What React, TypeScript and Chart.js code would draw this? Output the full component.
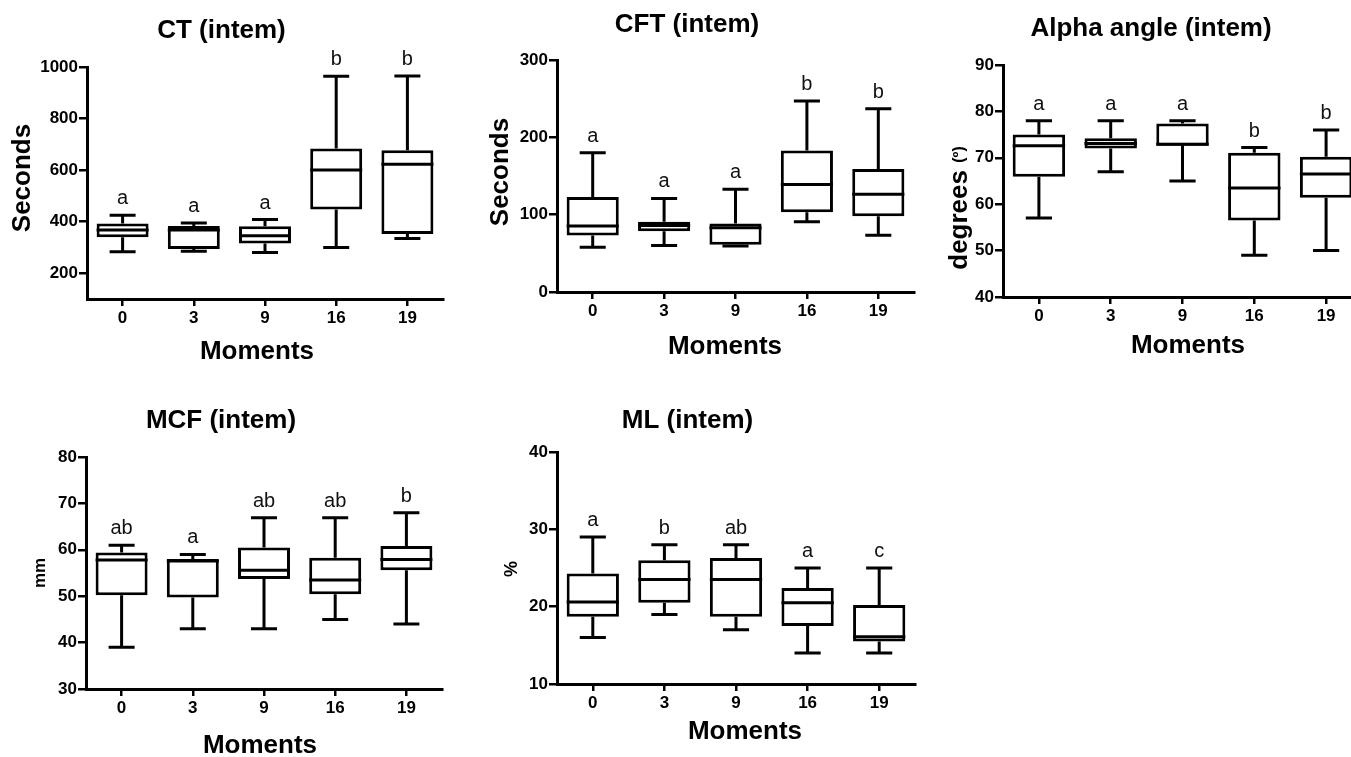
import React, { useEffect, useRef } from 'react';
import { Chart, registerables } from 'chart.js';

Chart.register(...registerables);

const FONT = "'Liberation Sans', Arial, Helvetica, sans-serif";

// ---------- data ----------
const moments = ['0', '3', '9', '16', '19'];

// CT (intem)
const ctMin = [283, 285, 280, 300, 335];
const ctQ1 = [340, 294, 315, 447, 352];
const ctMedian = [368, 368, 345, 600, 623];
const ctQ3 = [393, 383, 382, 684, 677];
const ctMax = [425, 395, 408, 964, 965];
const ctLetters = ['a', 'a', 'a', 'b', 'b'];
const ctTicks = [200, 400, 600, 800, 1000];

// CFT (intem)
const cftMin = [58, 60, 59.5, 90.7, 73.4];
const cftQ1 = [73, 78.5, 61, 103, 98];
const cftMedian = [85.5, 86, 83, 139, 126.5];
const cftQ3 = [123, 91, 88.5, 183, 159];
const cftMax = [180, 121, 133, 247, 237];
const cftLetters = ['a', 'a', 'a', 'b', 'b'];
const cftTicks = [0, 100, 200, 300];

// Alpha angle (intem)
const alphaMin = [57, 67, 65, 49, 50];
const alphaQ1 = [65.9, 72.0, 72.6, 56.5, 61.4];
const alphaMedian = [72.6, 73.1, 72.9, 63.5, 66.5];
const alphaQ3 = [75, 74.2, 77.4, 71.1, 70.2];
const alphaMax = [78, 78, 78, 72.2, 76];
const alphaLetters = ['a', 'a', 'a', 'b', 'b'];
const alphaTicks = [40, 50, 60, 70, 80, 90];

// MCF (intem)
const mcfMin = [39, 43, 43, 45, 44];
const mcfQ1 = [50.2, 49.7, 53.7, 50.4, 55.6];
const mcfMedian = [57.8, 57.6, 55.6, 53.5, 57.9];
const mcfQ3 = [59.4, 58, 60.5, 58.3, 60.8];
const mcfMax = [61, 59, 66.9, 66.9, 68];
const mcfLetters = ['ab', 'a', 'ab', 'ab', 'b'];
const mcfTicks = [30, 40, 50, 60, 70, 80];

// ML (intem)
const mlMin = [16, 19, 17, 14, 14];
const mlQ1 = [18.7, 20.5, 18.7, 17.5, 15.5];
const mlMedian = [20.6, 23.5, 23.5, 20.5, 16.1];
const mlQ3 = [24.3, 26, 26.3, 22.4, 20.2];
const mlMax = [29, 28, 28, 25, 25];
const mlLetters = ['a', 'b', 'ab', 'a', 'c'];
const mlTicks = [10, 20, 30, 40];

// ---------- layout ----------
type Rect = { x: number; y: number; w: number; h: number };
type Part = { text: string; size: number };
type Panel = {
  title: string;
  min: number[]; q1: number[]; median: number[]; q3: number[]; max: number[];
  letters: string[];
  yMin: number; yMax: number; yTicks: number[];
  canvas: Rect;
  area: { l: number; t: number; r: number; b: number };
  titleY: number;
  yTitle: { parts: Part[]; x: number; y: number };
  xTitle: { text: string; x: number; y: number };
};

const panels: Panel[] = [
  {
    title: 'CT (intem)', min: ctMin, q1: ctQ1, median: ctMedian, q3: ctQ3, max: ctMax, letters: ctLetters,
    yMin: 100, yMax: 1000, yTicks: ctTicks,
    canvas: { x: 0, y: 0, w: 518, h: 380 },
    area: { l: 87, t: 67, r: 443, b: 299 },
    titleY: 28.5,
    yTitle: { parts: [{ text: 'Seconds', size: 26 }], x: 23, y: 178 },
    xTitle: { text: 'Moments', x: 257, y: 352 },
  },
  {
    title: 'CFT (intem)', min: cftMin, q1: cftQ1, median: cftMedian, q3: cftQ3, max: cftMax, letters: cftLetters,
    yMin: 0, yMax: 300, yTicks: cftTicks,
    canvas: { x: 460, y: 0, w: 544, h: 380 },
    area: { l: 557, t: 60, r: 914, b: 292 },
    titleY: 23,
    yTitle: { parts: [{ text: 'Seconds', size: 26 }], x: 501, y: 172 },
    xTitle: { text: 'Moments', x: 725, y: 347 },
  },
  {
    title: 'Alpha angle (intem)', min: alphaMin, q1: alphaQ1, median: alphaMedian, q3: alphaQ3, max: alphaMax, letters: alphaLetters,
    yMin: 40, yMax: 90, yTicks: alphaTicks,
    canvas: { x: 940, y: 0, w: 504, h: 380 },
    area: { l: 1003, t: 65, r: 1362, b: 297 },
    titleY: 27,
    yTitle: { parts: [{ text: 'degrees ', size: 26 }, { text: '(º)', size: 16 }], x: 960, y: 208 },
    xTitle: { text: 'Moments', x: 1188, y: 346 },
  },
  {
    title: 'MCF (intem)', min: mcfMin, q1: mcfQ1, median: mcfMedian, q3: mcfQ3, max: mcfMax, letters: mcfLetters,
    yMin: 30, yMax: 80, yTicks: mcfTicks,
    canvas: { x: 0, y: 390, w: 524, h: 367 },
    area: { l: 86, t: 457, r: 442, b: 689 },
    titleY: 419,
    yTitle: { parts: [{ text: 'mm', size: 17 }], x: 40, y: 573 },
    xTitle: { text: 'Moments', x: 260, y: 746 },
  },
  {
    title: 'ML (intem)', min: mlMin, q1: mlQ1, median: mlMedian, q3: mlQ3, max: mlMax, letters: mlLetters,
    yMin: 10, yMax: 40, yTicks: mlTicks,
    canvas: { x: 460, y: 390, w: 564, h: 367 },
    area: { l: 557, t: 452, r: 915, b: 684 },
    titleY: 419,
    yTitle: { parts: [{ text: '%', size: 18 }], x: 512, y: 569 },
    xTitle: { text: 'Moments', x: 745, y: 732 },
  },
];

const TITLE_SIZE = 26;
const LH = 1.2;
const TICK_SIZE = 17;

const boxPlugin = {
  id: 'boxWhiskers',
  afterDatasetsDraw(chart: any, _args: any, opts: any) {
    const p: Panel = opts.panel;
    if (!p) return;
    const { ctx } = chart;
    const y = chart.scales.y;
    const meta = chart.getDatasetMeta(0);
    ctx.save();
    ctx.strokeStyle = '#000';
    ctx.lineWidth = 3;
    ctx.lineCap = 'butt';
    meta.data.forEach((bar: any, i: number) => {
      const { x, width } = bar.getProps(['x', 'width'], true);
      const half = width / 2;
      const cap = width / 4;
      const pMin = y.getPixelForValue(p.min[i]);
      const pMax = y.getPixelForValue(p.max[i]);
      const pQ1 = y.getPixelForValue(p.q1[i]);
      const pQ3 = y.getPixelForValue(p.q3[i]);
      const pMed = y.getPixelForValue(p.median[i]);
      ctx.beginPath();
      ctx.moveTo(x, pQ3);
      ctx.lineTo(x, pMax);
      ctx.moveTo(x - cap, pMax);
      ctx.lineTo(x + cap, pMax);
      ctx.moveTo(x, pQ1);
      ctx.lineTo(x, pMin);
      ctx.moveTo(x - cap, pMin);
      ctx.lineTo(x + cap, pMin);
      ctx.moveTo(x - half, pMed);
      ctx.lineTo(x + half, pMed);
      ctx.stroke();
      ctx.fillStyle = '#111';
      ctx.font = `20px ${FONT}`;
      ctx.textAlign = 'center';
      ctx.textBaseline = 'alphabetic';
      ctx.fillText(p.letters[i], x, pMax - 11);
    });
    ctx.restore();
  },
};

const axisTitlePlugin = {
  id: 'axisTitles',
  afterDraw(chart: any, _args: any, opts: any) {
    const p: Panel = opts.panel;
    if (!p) return;
    const { ctx } = chart;
    ctx.save();
    ctx.fillStyle = '#000';
    ctx.textBaseline = 'middle';
    ctx.font = `bold 26px ${FONT}`;
    ctx.textAlign = 'center';
    ctx.fillText(p.xTitle.text, p.xTitle.x - p.canvas.x, p.xTitle.y - p.canvas.y);
    const parts = p.yTitle.parts;
    const widths = parts.map((pt) => {
      ctx.font = `bold ${pt.size}px ${FONT}`;
      return ctx.measureText(pt.text).width;
    });
    const total = widths.reduce((a, b) => a + b, 0);
    ctx.translate(p.yTitle.x - p.canvas.x, p.yTitle.y - p.canvas.y);
    ctx.rotate(-Math.PI / 2);
    ctx.textAlign = 'left';
    let cx = -total / 2;
    parts.forEach((pt, i) => {
      ctx.font = `bold ${pt.size}px ${FONT}`;
      ctx.fillText(pt.text, cx, 0);
      cx += widths[i];
    });
    ctx.restore();
  },
};

function BoxPanel({ p }: { p: Panel }) {
  const ref = useRef<HTMLCanvasElement | null>(null);
  useEffect(() => {
    if (!ref.current) return;
    const c = p.canvas;
    const yW = p.area.l - c.x;
    const xH = c.y + c.h - p.area.b;
    const padR = c.x + c.w - p.area.r;
    const tLH = TITLE_SIZE * LH;
    const pt = p.titleY + 2 - c.y - tLH / 2;
    const pb = p.area.t - c.y - tLH - pt;
    const chart = new Chart(ref.current, {
      type: 'bar',
      data: {
        labels: moments,
        datasets: [
          {
            data: p.q1.map((v, i) => [v, p.q3[i]]) as any,
            backgroundColor: '#fff',
            borderColor: '#000',
            borderWidth: 3,
            borderSkipped: false,
            barPercentage: 0.73,
            categoryPercentage: 1,
          },
        ],
      },
      options: {
        responsive: false,
        animation: false,
        devicePixelRatio: 1,
        layout: { padding: { top: 0, left: 0, right: padR, bottom: 0 } },
        plugins: {
          legend: { display: false },
          tooltip: { enabled: false },
          title: {
            display: true,
            text: p.title,
            color: '#000',
            font: { family: FONT, size: TITLE_SIZE, weight: 'bold', lineHeight: LH },
            padding: { top: pt, bottom: pb },
          },
          boxWhiskers: { panel: p },
          axisTitles: { panel: p },
        } as any,
        scales: {
          x: {
            type: 'category',
            offset: true,
            afterFit: (s: any) => { s.height = xH; },
            grid: {
              display: true, drawOnChartArea: false, drawTicks: true, offset: false,
              tickLength: 7, lineWidth: 2.5, color: '#000',
            },
            border: { display: true, width: 3, color: '#000' },
            ticks: { color: '#000', padding: 2, font: { family: FONT, size: TICK_SIZE, weight: 'bold' } },
          },
          y: {
            type: 'linear',
            min: p.yMin,
            max: p.yMax,
            afterFit: (s: any) => { s.width = yW; },
            afterBuildTicks: (s: any) => { s.ticks = p.yTicks.map((v) => ({ value: v })); },
            grid: {
              display: true, drawOnChartArea: false, drawTicks: true,
              tickLength: 8, lineWidth: 2.5, color: '#000',
            },
            border: { display: true, width: 3, color: '#000' },
            ticks: {
              color: '#000', padding: 1,
              font: { family: FONT, size: TICK_SIZE, weight: 'bold' },
              callback: (v: any) => String(v),
            },
          },
        },
      } as any,
      plugins: [boxPlugin, axisTitlePlugin],
    });
    return () => chart.destroy();
  }, [p]);
  return (
    <canvas
      ref={ref}
      width={p.canvas.w}
      height={p.canvas.h}
      style={{ position: 'absolute', left: p.canvas.x, top: p.canvas.y, width: p.canvas.w, height: p.canvas.h }}
    />
  );
}

export default function App() {
  return (
    <div
      style={{
        position: 'fixed', left: 0, top: 0, width: 1351, height: 757,
        overflow: 'hidden', background: '#fff',
      }}
    >
      {panels.map((p) => (
        <BoxPanel key={p.title} p={p} />
      ))}
    </div>
  );
}
